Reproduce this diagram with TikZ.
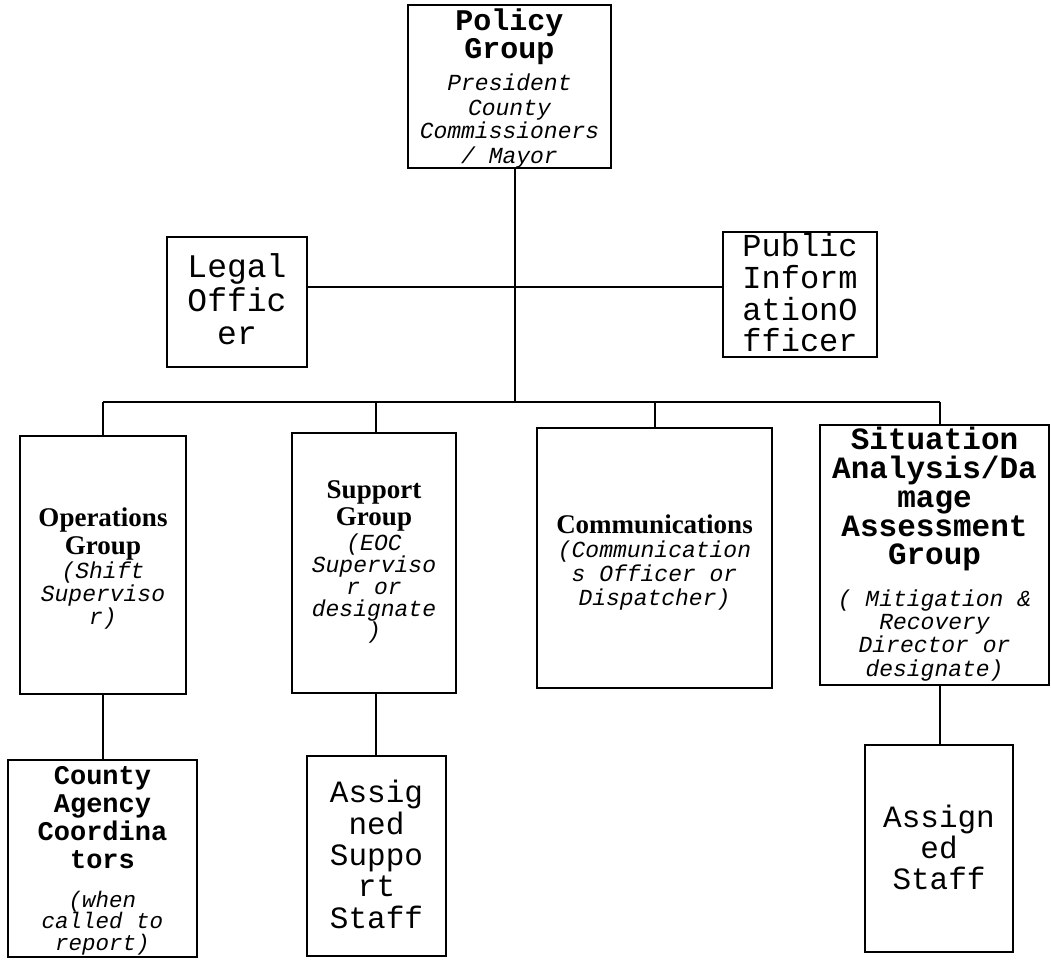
\documentclass[tikz,border=0pt]{standalone}
\usepackage{fontspec}
\usetikzlibrary{calc}
\setmainfont{Liberation Serif}
\newfontfamily\monof{Liberation Mono}
\newcommand\fsz[2]{\fontsize{#1}{#2}\selectfont\lineskiplimit=-100pt\relax}
\newcommand\MB[2]{{\monof\bfseries\fontsize{#1}{#1}\selectfont #2}}
\newcommand\MI[2]{{\monof\itshape\fontsize{#1}{#1}\selectfont #2}}
\newcommand\MR[2]{{\monof\fontsize{#1}{#1}\selectfont #2}}
\newcommand\TB[2]{{\rmfamily\bfseries\fontsize{#1}{#1}\selectfont #2}}
\begin{document}
\begin{tikzpicture}[x=1pt,y=-1pt,
  box/.style={draw, line width=1.7pt, inner sep=0pt},
  txt/.style={inner sep=0pt, align=center},
  conn/.style={draw, line width=1.3pt}]
\useasboundingbox (0,0) rectangle (1051,961);
\fill[white] (0,0) rectangle (1051,961);

% boxes
\node[box, minimum width=203pt, minimum height=163pt] (policy) at (509.5,86.5) {};
\node[box, minimum width=140pt, minimum height=130pt] (legal) at (237,302) {};
\node[box, minimum width=154pt, minimum height=125pt] (pio) at (800,294.5) {};
\node[box, minimum width=166pt, minimum height=258pt] (ops) at (103,565) {};
\node[box, minimum width=164pt, minimum height=260pt] (sup) at (374,563) {};
\node[box, minimum width=235pt, minimum height=260pt] (com) at (654.5,558) {};
\node[box, minimum width=229pt, minimum height=260pt] (sit) at (934.5,555) {};
\node[box, minimum width=189pt, minimum height=197pt] (county) at (102.5,858.5) {};
\node[box, minimum width=139pt, minimum height=200pt] (asup) at (376.5,856) {};
\node[box, minimum width=148pt, minimum height=207pt] (astaff) at (939,848.5) {};

% texts
\node[txt, font=\fsz{25}{25}] (policyT) at ($(policy.center)+(0,2)$)
  {\MB{30}{Policy}\\[3pt]\MB{30}{Group}\\[7pt]\MI{23}{President}\\ \MI{23}{County}\\[-2pt]\MI{23}{Commissioners}\\ \MI{23}{/ Mayor}};

\node[txt, font=\fsz{33}{33.5}] (legalT) at ($(legal.center)+(0,-2.5)$)
  {\MR{33}{Legal}\\ \MR{33}{Offic}\\ \MR{33}{er}};

\node[txt, font=\fsz{32}{31.7}] (pioT) at ($(pio.center)+(0,-1.5)$)
  {\MR{32}{Public}\\ \MR{32}{Inform}\\ \MR{32}{ationO}\\ \MR{32}{fficer}};

\node[txt, font=\fsz{23}{23}] (opsT) at ($(ops.center)+(0,3.5)$)
  {\TB{27}{Operations}\\[5pt]\TB{27}{Group}\\[1pt]\MI{23}{(Shift}\\ \MI{23}{Superviso}\\ \MI{23}{r)}};

\node[txt, font=\fsz{22}{22}] (supT) at ($(sup.center)+(0,-1)$)
  {\TB{27}{Support}\\[5pt]\TB{27}{Group}\\[3pt]\MI{23}{(EOC}\\ \MI{23}{Superviso}\\ \MI{23}{r or}\\ \MI{23}{designate}\\ \MI{23}{)}};

\node[txt, font=\fsz{24.3}{24.3}] (comT) at ($(com.center)+(0,4.5)$)
  {\TB{27}{Communications}\\[-0.5pt]\MI{23}{(Communication}\\ \MI{23}{s Officer or}\\ \MI{23}{Dispatcher)}};

\node[txt, font=\fsz{23.3}{23.3}] (sitT) at ($(sit.center)+(0,-1)$)
  {\MB{31}{Situation}\\[5.5pt]\MB{31}{Analysis/Da}\\[5.5pt]\MB{31}{mage}\\[5.5pt]\MB{31}{Assessment}\\[5.5pt]\MB{31}{Group}\\[18pt]\MI{23}{( Mitigation \&}\\ \MI{23}{Recovery}\\ \MI{23}{Director or}\\ \MI{23}{designate)}};

\node[txt, font=\fsz{21.5}{21.5}] (countyT) at ($(county.center)+(0,2.5)$)
  {\MB{27}{County}\\[6.5pt]\MB{27}{Agency}\\[6.5pt]\MB{27}{Coordina}\\[6.5pt]\MB{27}{tors}\\[17pt]\MI{22.5}{(when}\\ \MI{22.5}{called to}\\ \MI{22.5}{report)}};

\node[txt, font=\fsz{31}{31.3}] (asupT) at ($(asup.center)+(0,-1.5)$)
  {\MR{31}{Assig}\\ \MR{31}{ned}\\ \MR{31}{Suppo}\\ \MR{31}{rt}\\ \MR{31}{Staff}};

\node[txt, font=\fsz{31}{30.6}] (astaffT) at ($(astaff.center)+(0,-1)$)
  {\MR{31}{Assign}\\ \MR{31}{ed}\\ \MR{31}{Staff}};

% connector points
\coordinate (hub) at (515,402);
\coordinate (lp) at (515,287);
\coordinate (b1) at (103,402);
\coordinate (b2) at (376,402);
\coordinate (b3) at (655,402);
\coordinate (b4) at (940,402);

\draw[conn] (policy.south -| hub) -- (hub);
\draw[conn] (legal.east |- lp) -- (pio.west |- lp);
\draw[conn] (b1) -- (b4);
\draw[conn] (b1) -- (b1 |- ops.north);
\draw[conn] (b2) -- (b2 |- sup.north);
\draw[conn] (b3) -- (b3 |- com.north);
\draw[conn] (b4) -- (b4 |- sit.north);
\draw[conn] (ops.south -| b1) -- (county.north -| b1);
\draw[conn] (sup.south -| b2) -- (asup.north -| b2);
\draw[conn] (sit.south -| b4) -- (astaff.north -| b4);
\end{tikzpicture}
\end{document}
